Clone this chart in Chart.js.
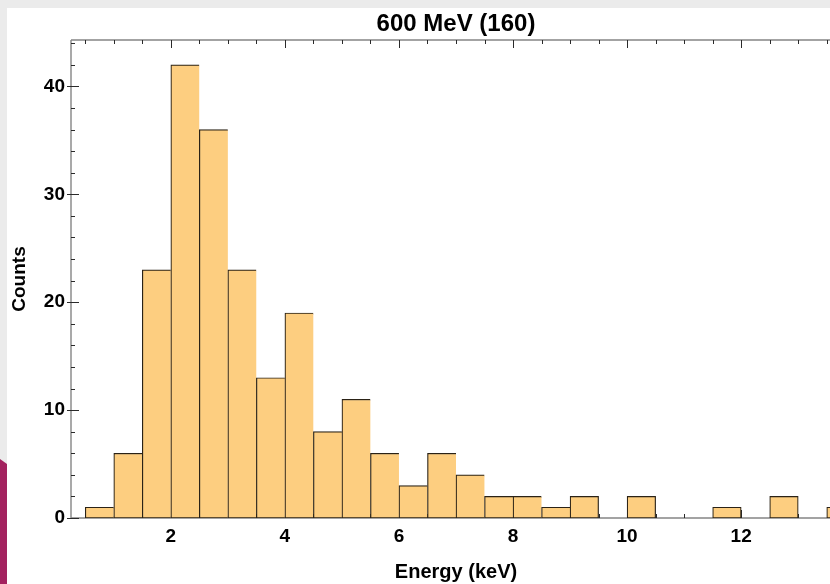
<!DOCTYPE html>
<html>
<head>
<meta charset="utf-8">
<script src="https://cdn.jsdelivr.net/npm/chart.js@4.4.1/dist/chart.umd.min.js"></script>
<style>
  html, body { margin: 0; padding: 0; width: 830px; height: 584px; overflow: hidden; background: #ebebeb; }
  #panel { position: absolute; left: 7px; top: 8px; width: 900px; height: 576px; background: #ffffff; }
  #ribbon { position: absolute; left: 0; top: 459px; width: 7px; height: 125px; background: #a3225f;
            clip-path: polygon(0 0, 100% 5px, 100% 100%, 0 100%); }
  canvas { display: block; }
</style>
</head>
<body>
<div id="panel"><canvas id="hist" width="900" height="576"></canvas></div>
<div id="ribbon"></div>
<script>
// Histogram of deposited energy, 0.5 keV bins
const chartTitle = '600 MeV (160)';
const xAxisTitle = 'Energy (keV)';
const yAxisTitle = 'Counts';

const binCenters = [0.75, 1.25, 1.75, 2.25, 2.75, 3.25, 3.75, 4.25, 4.75, 5.25, 5.75, 6.25, 6.75,
                    7.25, 7.75, 8.25, 8.75, 9.25, 9.75, 10.25, 10.75, 11.25, 11.75, 12.25, 12.75, 13.25, 13.75];
const counts     = [1, 6, 23, 42, 36, 23, 13, 19, 8, 11, 6, 3, 6,
                    4, 2, 2, 1, 2, 0, 2, 0, 0, 1, 0, 2, 0, 1];

const xTickValues = [2, 4, 6, 8, 10, 12];
const yTickValues = [0, 10, 20, 30, 40];

const FONT = "'Liberation Sans', Arial, Helvetica, sans-serif";
Chart.defaults.font.family = FONT;

// Frame lines plus inward major/minor tick marks, drawn beneath the bars
const frameAxes = {
  id: 'frameAxes',
  beforeDatasetsDraw(chart) {
    const { ctx, chartArea, scales } = chart;
    const { left, right, top, bottom } = chartArea;
    const x = scales.x, y = scales.y;
    const snap = v => Math.round(v) + 0.5;
    ctx.save();
    ctx.strokeStyle = '#858585';
    ctx.lineWidth = 1.4;
    ctx.beginPath();
    ctx.moveTo(left, top); ctx.lineTo(right, top);
    ctx.moveTo(left, top); ctx.lineTo(left, bottom);
    ctx.moveTo(left, bottom); ctx.lineTo(right, bottom);
    ctx.moveTo(right, top); ctx.lineTo(right, bottom);
    ctx.stroke();

    ctx.strokeStyle = '#2a2a2a';
    ctx.lineWidth = 1;
    ctx.beginPath();
    for (let v = 0.5; v <= x.max; v += 0.5) {
      const px = snap(x.getPixelForValue(v));
      const len = (v % 2 === 0) ? 8 : 4;
      ctx.moveTo(px, top); ctx.lineTo(px, top + len);
      ctx.moveTo(px, bottom); ctx.lineTo(px, bottom - len);
    }
    for (let v = 0; v <= y.max; v += 2) {
      const py = snap(y.getPixelForValue(v));
      const major = v % 10 === 0;
      ctx.moveTo(left - (major ? 4 : 0), py);
      ctx.lineTo(left + (major ? 8 : 4), py);
    }
    ctx.stroke();
    ctx.restore();
  }
};

new Chart(document.getElementById('hist'), {
  type: 'bar',
  data: {
    datasets: [{
      data: binCenters.map((c, i) => ({ x: c, y: counts[i] > 0 ? counts[i] : null })),
      backgroundColor: '#fdce80',
      borderColor: '#2a2216',
      borderSkipped: false,
      borderWidth: ctx => {
        const next = counts[ctx.dataIndex + 1];
        return { top: 1.2, left: 1.2, bottom: 1.2, right: next > 0 ? 0 : 1.2 };
      },
      barPercentage: 1,
      categoryPercentage: 1
    }]
  },
  options: {
    responsive: false,
    animation: false,
    events: [],
    layout: { padding: { left: 0, top: 0, right: 66, bottom: 0 } },
    plugins: {
      legend: { display: false },
      tooltip: { enabled: false },
      title: {
        display: true,
        text: chartTitle,
        fullSize: false,
        color: '#000',
        font: { size: 24, weight: 'bold', lineHeight: 1.2 },
        padding: { top: 2, bottom: 1.2 }
      }
    },
    scales: {
      x: {
        type: 'linear',
        min: 0.25,
        max: 13.75,
        offset: false,
        grid: { display: false, drawTicks: false },
        border: { display: false },
        afterBuildTicks: s => { s.ticks = xTickValues.map(v => ({ value: v })); },
        afterFit: s => { s.height = 66; },
        ticks: {
          color: '#000',
          font: { size: 19, weight: 'bold', lineHeight: 1.2 },
          padding: 7,
          maxRotation: 0,
          autoSkip: false
        },
        title: {
          display: true,
          text: xAxisTitle,
          color: '#000',
          font: { size: 20, weight: 'bold', lineHeight: 1.2 },
          padding: { top: 0, bottom: 0 }
        }
      },
      y: {
        type: 'linear',
        min: 0,
        max: 44.3,
        grid: { display: false, drawTicks: false },
        border: { display: false },
        afterBuildTicks: s => { s.ticks = yTickValues.map(v => ({ value: v })); },
        afterFit: s => { s.width = 64; },
        ticks: {
          color: '#000',
          font: { size: 19, weight: 'bold', lineHeight: 1.2 },
          padding: 6
        },
        title: {
          display: true,
          text: yAxisTitle,
          color: '#000',
          font: { size: 19, weight: 'bold', lineHeight: 1.2 },
          padding: { top: 1, bottom: 0 }
        }
      }
    }
  },
  plugins: [frameAxes]
});
</script>
</body>
</html>
